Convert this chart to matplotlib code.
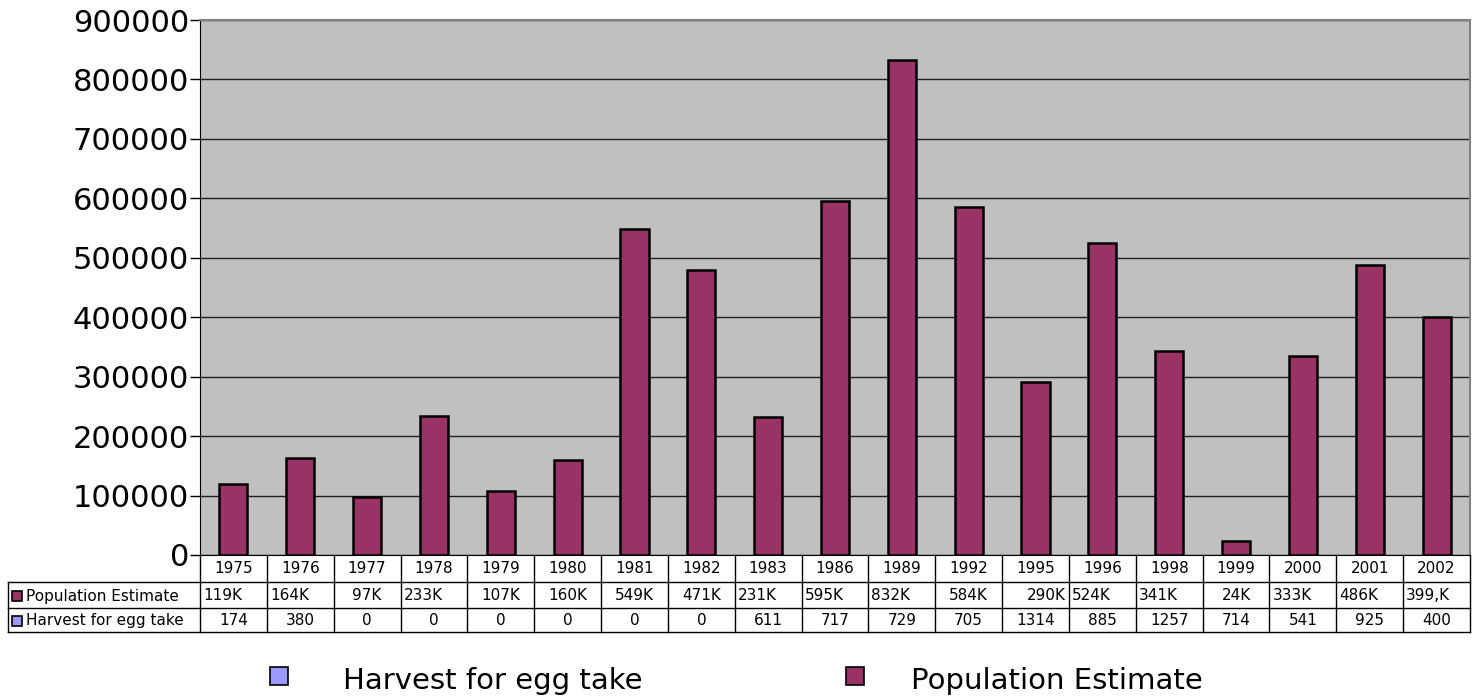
import matplotlib.pyplot as plt
from matplotlib.patches import Rectangle
from matplotlib.lines import Line2D
import numpy as np

plt.rcParams['font.family'] = ['DejaVu Sans']

years = ['1975', '1976', '1977', '1978', '1979', '1980', '1981', '1982', '1983', '1986',
         '1989', '1992', '1995', '1996', '1998', '1999', '2000', '2001', '2002']
population = [119000, 164000, 97000, 233000, 107000, 160000, 549000, 480000, 232000, 595000,
              832000, 585000, 291000, 525000, 343000, 24000, 335000, 488000, 400000]
pop_labels = ['119K', '164K', '97K', '233K', '107K', '160K', '549K', '471K', '231K', '595K',
              '832K', '584K', '290K', '524K', '341K', '24K', '333K', '486K', '399,K']
harvest = [174, 380, 0, 0, 0, 0, 0, 0, 611, 717, 729, 705, 1314, 885, 1257, 714, 541, 925, 400]
pop_align = ['l', 'l', 'c', 'l', 'c', 'c', 'c', 'c', 'l', 'l',
             'l', 'c', 'r', 'l', 'l', 'c', 'l', 'l', 'l']

pop_color = '#993366'
harv_color = '#9999ff'

W, H = 1480, 700
fig = plt.figure(figsize=(14.8, 7), dpi=100)

def fx(px):
    return px / W

def fy(py):
    return 1 - py / H

left, right, top, bottom = 200, 1470, 20, 555
ax = fig.add_axes([fx(left), fy(bottom), fx(right - left), (bottom - top) / H])
ax.set_facecolor('#c0c0c0')

x = np.arange(len(years))
ax.bar(x, population, width=0.42, color=pop_color, edgecolor='black', linewidth=1.8, zorder=3)

ax.set_xlim(-0.5, len(years) - 0.5)
ax.set_ylim(0, 900000)
ax.set_yticks(np.arange(0, 900001, 100000))
ax.set_yticklabels([str(v) for v in range(0, 900001, 100000)], fontsize=22)
ax.set_xticks([])
ax.yaxis.grid(True, color='#202020', linewidth=1.0, zorder=1)
ax.tick_params(axis='y', length=7, width=1, pad=1)
for s in ['top', 'right']:
    ax.spines[s].set_color('#808080')
    ax.spines[s].set_linewidth(1.5)
ax.spines['left'].set_color('black')
ax.spines['bottom'].set_color('black')

# data table under the plot
row_y = [555, 582, 608, 632]
col_w = (right - left) / len(years)
lc = 'black'
lw = 1.0
for yy in row_y[1:]:
    fig.add_artist(Line2D([fx(8), fx(right)], [fy(yy), fy(yy)], color=lc, linewidth=lw))
for i in range(len(years) + 1):
    xx = left + i * col_w
    fig.add_artist(Line2D([fx(xx), fx(xx)], [fy(555), fy(632)], color=lc, linewidth=lw))
fig.add_artist(Line2D([fx(8), fx(8)], [fy(582), fy(632)], color=lc, linewidth=lw))

tfs = 11
for i, yr in enumerate(years):
    cx = left + (i + 0.5) * col_w
    fig.text(fx(cx), fy(568.5), yr, ha='center', va='center', fontsize=tfs)
    a = pop_align[i]
    if a == 'l':
        px, ha = left + i * col_w + 3, 'left'
    elif a == 'r':
        px, ha = left + (i + 1) * col_w - 3, 'right'
    else:
        px, ha = cx, 'center'
    fig.text(fx(px), fy(596), pop_labels[i], ha=ha, va='center', fontsize=tfs)
    fig.text(fx(cx), fy(620.5), str(harvest[i]), ha='center', va='center', fontsize=tfs)

# row headers with small keys
for yc, name, col in [(596, 'Population Estimate', pop_color), (620.5, 'Harvest for egg take', harv_color)]:
    fig.add_artist(Rectangle((fx(12), fy(yc + 5)), fx(10), 10 / H, facecolor=col,
                             edgecolor='black', linewidth=1.2))
    fig.text(fx(26), fy(yc), name, ha='left', va='center', fontsize=tfs)

# legend
for lx, tx, name, col in [(270, 343, 'Harvest for egg take', harv_color),
                          (846, 911, 'Population Estimate', pop_color)]:
    fig.add_artist(Rectangle((fx(lx), fy(685)), fx(18), 18 / H, facecolor=col,
                             edgecolor='black', linewidth=1.2))
    fig.text(fx(tx), fy(681), name, ha='left', va='center', fontsize=21)

fig.savefig('out.png', dpi=100)
